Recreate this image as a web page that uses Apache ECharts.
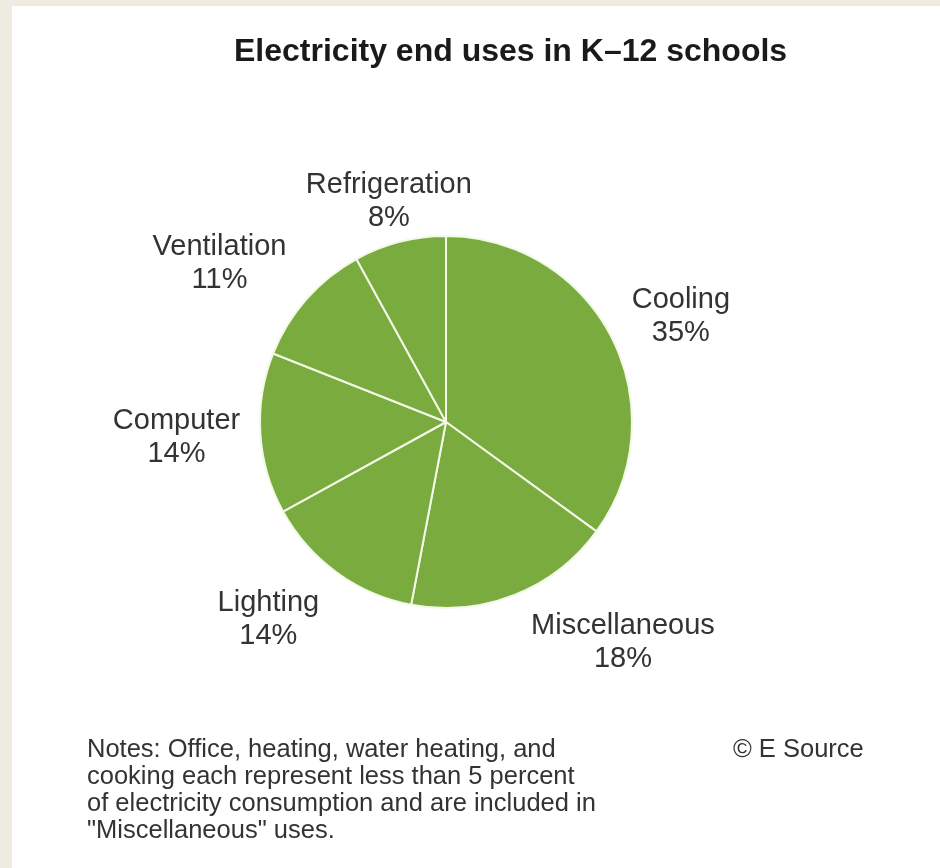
<!DOCTYPE html>
<html lang="en">
<head>
  <meta charset="UTF-8">
  <title>Electricity end uses in K-12 schools</title>
  <style>
    html, body {
      margin: 0;
      padding: 0;
      background: #eeebe1;
    }
    #chart {
      position: absolute;
      left: 12px;
      top: 6px;
      width: 928px;
      height: 862px;
      background: #ffffff;
    }
  </style>
</head>
<body>
  <div id="chart"></div>

  <script src="https://cdn.jsdelivr.net/npm/echarts@6/dist/echarts.min.js"></script>
  <script>
    // end uses, clockwise from 12 o'clock
    const categories = ['Cooling', 'Miscellaneous', 'Lighting', 'Computer', 'Ventilation', 'Refrigeration'];
    const shares = [35, 18, 14, 14, 11, 8];

    // nudges so each label sits where the original put it
    const labelOffsets = [[5, 12], [82, -19], [-26, -11], [-12, -1], [-33, 12], [7, 29]];

    const notesText = 'Notes: Office, heating, water heating, and\n' +
      'cooking each represent less than 5 percent\n' +
      'of electricity consumption and are included in\n' +
      '"Miscellaneous" uses.';

    const green = '#7aab3f';
    const font = 'Arial, "Liberation Sans", sans-serif';

    const chart = echarts.init(document.getElementById('chart'));

    chart.setOption({
      animation: false,
      title: {
        text: 'Electricity end uses in K\u201312 schools',
        left: 217,
        top: 25,
        textStyle: {
          fontFamily: font,
          fontSize: 32,
          fontWeight: 'bold',
          color: '#1a1a1a'
        }
      },
      series: [
        {
          type: 'pie',
          center: [434, 416],
          radius: [0, 186],
          startAngle: 90,
          clockwise: true,
          silent: true,
          label: { show: false },
          labelLine: { show: false },
          itemStyle: {
            color: green,
            borderColor: '#f2f9e6',
            borderWidth: 2
          },
          data: categories.map((name, i) => ({ name: name, value: shares[i] }))
        },
        {
          // invisible ring that only carries the labels
          type: 'pie',
          center: [434, 416],
          radius: [230, 280],
          startAngle: 90,
          clockwise: true,
          silent: true,
          itemStyle: { color: 'transparent' },
          labelLine: { show: false },
          label: {
            show: true,
            position: 'inside',
            formatter: '{b}\n{d}%',
            fontFamily: font,
            fontSize: 29,
            lineHeight: 33,
            color: '#333333',
            align: 'center'
          },
          data: categories.map((name, i) => ({
            name: name,
            value: shares[i],
            label: { offset: labelOffsets[i] }
          }))
        }
      ],
      graphic: [
        {
          type: 'text',
          left: 75,
          top: 730,
          style: {
            text: notesText,
            font: '25.5px ' + font,
            lineHeight: 27,
            fill: '#333333'
          }
        },
        {
          type: 'text',
          left: 721,
          top: 730,
          style: {
            text: '\u00a9 E Source',
            font: '25.5px ' + font,
            lineHeight: 27,
            fill: '#333333'
          }
        }
      ]
    });
  </script>
</body>
</html>
